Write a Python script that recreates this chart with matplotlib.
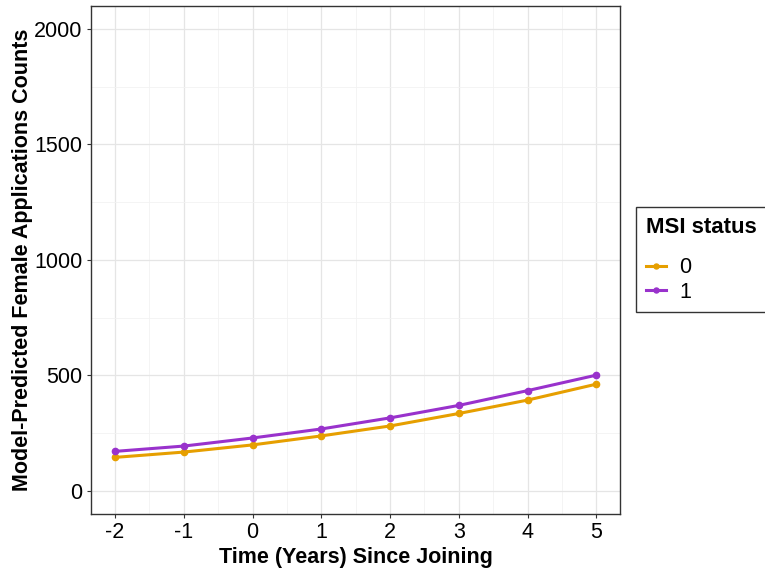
import matplotlib
matplotlib.use("Agg")
import matplotlib.pyplot as plt
from matplotlib.ticker import MultipleLocator

plt.rcParams['font.family'] = ['Liberation Sans', 'DejaVu Sans']
plt.rcParams['axes.unicode_minus'] = False

years = [-2, -1, 0, 1, 2, 3, 4, 5]
msi0 = [145, 168, 199, 238, 281, 335, 393, 462]
msi1 = [171, 194, 229, 268, 316, 370, 434, 501]
series_labels = ["0", "1"]
colors = ["#E69F00", "#9932CC"]

fig = plt.figure(figsize=(7.65, 5.73), dpi=100)
ax = fig.add_axes([0.119, 0.103, 0.692, 0.887])

for vals, lab, c in zip([msi0, msi1], series_labels, colors):
    ax.plot(years, vals, color=c, lw=2.2, marker='o', ms=4.5, label=lab)

ax.set_xlim(-2.35, 5.35)
ax.set_ylim(-100, 2100)
ax.set_xticks(years)
ax.set_yticks([0, 500, 1000, 1500, 2000])
ax.xaxis.set_minor_locator(MultipleLocator(0.5))
ax.yaxis.set_minor_locator(MultipleLocator(250))
ax.grid(which='major', color='#E5E5E5', lw=0.9)
ax.grid(which='minor', color='#F2F2F2', lw=0.6)
ax.set_axisbelow(True)
for s in ax.spines.values():
    s.set_color('#333333')
    s.set_linewidth(1.0)
ax.tick_params(axis='both', which='major', labelsize=15.5, colors='#333333',
               length=3, pad=3, labelcolor='black')
ax.tick_params(axis='both', which='minor', length=0)
ax.set_xlabel("Time (Years) Since Joining", fontsize=15.5, fontweight='bold', labelpad=3)
ax.set_ylabel("Model-Predicted Female Applications Counts", fontsize=15.5, fontweight='bold', labelpad=1)

leg = fig.legend(title="MSI status", loc='upper left', bbox_to_anchor=(0.8314, 0.6387),
                 borderaxespad=0,
                 fontsize=15.5, title_fontproperties={'weight': 'bold', 'size': 16},
                 frameon=True, fancybox=False, edgecolor='black', handlelength=0.95,
                 handletextpad=0.6, markerscale=0.8,
                 borderpad=0.45, labelspacing=0.16, alignment='left')
leg._legend_box.sep = 14
leg.get_frame().set_linewidth(1.0)

fig.savefig("out.png", dpi=100)
